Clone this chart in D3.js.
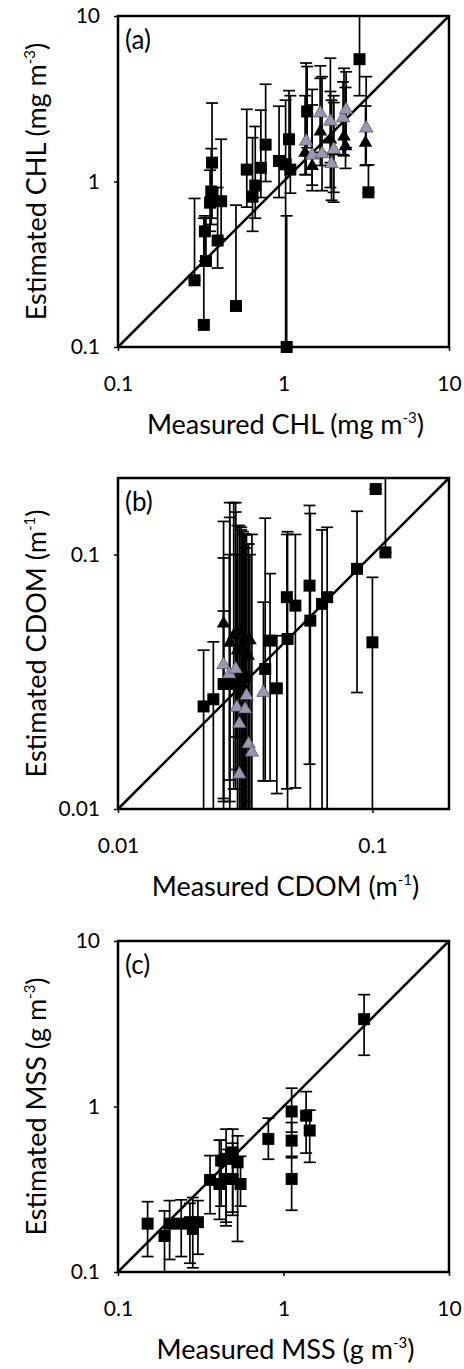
<!DOCTYPE html>
<html>
<head>
<meta charset="utf-8">
<script src="https://cdn.jsdelivr.net/npm/d3@7"></script>
<style>
  body { margin: 0; background: #fff; }
  text { font-family: Lato, "Open Sans", sans-serif; fill: #000; }
</style>
</head>
<body>
<svg id="chart" width="464" height="1369"></svg>
<script>
// each point: [measured, estimated, lower error end, upper error end]
var chlSquares = [
  [0.29, 0.253, 0.253, 0.79], [0.33, 0.136, 0.136, 0.60], [0.34, 0.331, 0.331, 0.60],
  [0.335, 0.50, 0.33, 0.62], [0.37, 1.30, 0.60, 2.98], [0.366, 0.87, 0.55, 1.58],
  [0.36, 0.745, 0.50, 1.17], [0.42, 0.76, 0.45, 1.80], [0.40, 0.44, 0.30, 0.92],
  [0.516, 0.177, 0.177, 0.72], [0.60, 1.18, 0.70, 2.73], [0.675, 0.945, 0.60, 2.15],
  [0.65, 0.81, 0.50, 1.84], [0.73, 1.21, 0.80, 2.70], [0.78, 1.67, 1.0, 3.87],
  [0.94, 1.33, 0.80, 2.85], [1.03, 1.27, 0.01, 3.1], [1.08, 1.80, 1.2, 3.54],
  [1.10, 1.18, 0.85, 3.3], [1.045, 0.10, 0.01, 0.62], [1.39, 2.65, 1.6, 4.95],
  [2.88, 5.48, 3.3, 20], [3.26, 0.86, 0.86, 1.26]
];
var chlBlackTri = [
  [1.35, 1.49, 1.1, 3.3], [1.49, 1.24, 0.88, 2.9], [1.67, 2.0, 1.25, 4.2],
  [1.92, 1.79, 0.92, 3.5], [2.01, 1.52, 0.86, 3.0], [2.32, 1.87, 1.43, 4.83],
  [2.37, 1.63, 1.2, 3.7], [3.13, 1.71, 1.25, 2.86]
];
var chlGreyTri = [
  [1.37, 1.75, 1.1, 5.2], [1.49, 1.44, 0.95, 3.6], [1.67, 2.59, 1.5, 5.0],
  [1.71, 1.47, 0.88, 4.3], [1.92, 2.31, 1.3, 5.56], [1.95, 1.28, 0.77, 3.1],
  [2.01, 1.56, 0.75, 3.3], [2.29, 2.42, 1.45, 4.0], [2.39, 2.71, 1.6, 4.6],
  [3.16, 2.1, 1.26, 4.3]
];

var cdomSquares = [
  [0.0217, 0.0253, 0.005, 0.0421], [0.0237, 0.027, 0.005, 0.0454], [0.026, 0.031, 0.011, 0.135],
  [0.0275, 0.031, 0.0107, 0.16], [0.029, 0.031, 0.0143, 0.147], [0.0305, 0.032, 0.005, 0.128],
  [0.031, 0.029, 0.005, 0.123], [0.0315, 0.033, 0.005, 0.106], [0.0379, 0.0355, 0.0129, 0.139],
  [0.0396, 0.0459, 0.0129, 0.0842], [0.0421, 0.0298, 0.0115, 0.048], [0.0464, 0.0466, 0.005, 0.123],
  [0.0461, 0.068, 0.012, 0.12], [0.0498, 0.063, 0.0121, 0.12], [0.0566, 0.0755, 0.015, 0.156],
  [0.057, 0.055, 0.005, 0.145], [0.0634, 0.064, 0.005, 0.125], [0.0664, 0.068, 0.005, 0.128],
  [0.087, 0.0879, 0.0287, 0.148], [0.100, 0.0452, 0.005, 0.0814], [0.103, 0.181, 0.181, 0.181],
  [0.1125, 0.102, 0.102, 0.5]
];
var cdomBlackTri = [
  [0.026, 0.0536, 0.010, 0.097], [0.0275, 0.045, 0.010, 0.14], [0.0285, 0.048, 0.012, 0.16],
  [0.0295, 0.042, 0.005, 0.13], [0.0305, 0.050, 0.005, 0.125], [0.031, 0.044, 0.005, 0.12],
  [0.0315, 0.047, 0.0107, 0.12], [0.0325, 0.040, 0.005, 0.11], [0.033, 0.046, 0.005, 0.10]
];
var cdomGreyTri = [
  [0.026, 0.0369, 0.0107, 0.06], [0.0274, 0.0339, 0.013, 0.10], [0.029, 0.0355, 0.012, 0.16],
  [0.0293, 0.0251, 0.0192, 0.10], [0.0316, 0.0247, 0.005, 0.12], [0.032, 0.0279, 0.005, 0.12],
  [0.0326, 0.018, 0.005, 0.11], [0.0336, 0.0167, 0.005, 0.12], [0.030, 0.0137, 0.005, 0.10],
  [0.030, 0.0216, 0.0143, 0.13], [0.0373, 0.0287, 0.0129, 0.065]
];

var mssSquares = [
  [0.151, 0.196, 0.124, 0.266], [0.191, 0.165, 0.05, 0.234], [0.205, 0.196, 0.119, 0.27],
  [0.241, 0.196, 0.124, 0.273], [0.283, 0.182, 0.106, 0.282], [0.304, 0.20, 0.128, 0.27],
  [0.272, 0.20, 0.113, 0.26], [0.36, 0.36, 0.225, 0.505], [0.41, 0.34, 0.208, 0.626],
  [0.42, 0.471, 0.25, 0.626], [0.45, 0.483, 0.20, 0.73], [0.493, 0.528, 0.23, 0.73],
  [0.528, 0.46, 0.153, 0.665], [0.493, 0.365, 0.22, 0.60], [0.55, 0.34, 0.25, 0.50],
  [0.45, 0.365, 0.19, 0.55], [0.81, 0.637, 0.48, 0.85], [1.12, 0.933, 0.70, 1.29],
  [1.12, 0.622, 0.49, 0.80], [1.12, 0.365, 0.236, 0.50], [1.37, 0.88, 0.523, 1.23],
  [1.44, 0.716, 0.46, 0.95], [3.07, 3.37, 2.04, 4.74]
];

var chlTicks = [0.1, 1, 10];
var cdomTicks = [0.01, 0.1];
var mssTicks = [0.1, 1, 10];

var panels = [
  { top: 16, domain: [0.1, 10], ticks: chlTicks, label: '(a)',
    xTitle: 'Measured CHL (mg m', yTitle: 'Estimated CHL (mg m', sup: '-3',
    series: [[chlSquares, 'square'], [chlBlackTri, 'black'], [chlGreyTri, 'grey']] },
  { top: 478, domain: [0.01, 0.2], ticks: cdomTicks, label: '(b)',
    xTitle: 'Measured CDOM (m', yTitle: 'Estimated CDOM (m', sup: '-1',
    series: [[cdomSquares, 'square'], [cdomBlackTri, 'black'], [cdomGreyTri, 'grey']] },
  { top: 941, domain: [0.1, 10], ticks: mssTicks, label: '(c)',
    xTitle: 'Measured MSS (g m', yTitle: 'Estimated MSS (g m', sup: '-3',
    series: [[mssSquares, 'square']] }
];

var svg = d3.select('#chart');
var left = 118, size = 331;

panels.forEach(function (p, i) {
  var g = svg.append('g').attr('transform', `translate(${left}, ${p.top})`);

  var x = d3.scaleLog().domain(p.domain).range([0, size]);
  var y = d3.scaleLog().domain(p.domain).range([size, 0]);

  g.append('clipPath').attr('id', 'clip' + i)
    .append('rect').attr('width', size).attr('height', size);

  var xAxis = g.append('g').attr('transform', `translate(0, ${size})`)
    .call(d3.axisBottom(x).tickValues(p.ticks).tickFormat(d => String(d)).tickSize(4).tickPadding(25));
  var yAxis = g.append('g')
    .call(d3.axisLeft(y).tickValues(p.ticks).tickFormat(d => String(d)).tickSize(4).tickPadding(14));
  [xAxis, yAxis].forEach(function (a) {
    a.select('.domain').remove();
    a.selectAll('line').attr('stroke', '#000').attr('stroke-width', 1.5);
    a.selectAll('text').style('font-size', '21px').attr('fill', '#000');
  });

  // 1:1 line
  g.append('line')
    .attr('x1', x(p.domain[0])).attr('y1', y(p.domain[0]))
    .attr('x2', x(p.domain[1])).attr('y2', y(p.domain[1]))
    .attr('stroke', '#000').attr('stroke-width', 2.5);

  p.series.forEach(function (s) {
    var data = s[0], kind = s[1];
    var bars = g.append('g').attr('clip-path', `url(#clip${i})`);
    data.forEach(function (d) {
      bars.append('line')
        .attr('x1', x(d[0])).attr('x2', x(d[0]))
        .attr('y1', y(d[2])).attr('y2', y(d[3]))
        .attr('stroke', '#000').attr('stroke-width', 1.7);
      [d[2], d[3]].forEach(function (v) {
        bars.append('line')
          .attr('x1', x(d[0]) - 6).attr('x2', x(d[0]) + 6)
          .attr('y1', y(v)).attr('y2', y(v))
          .attr('stroke', '#000').attr('stroke-width', 1.7);
      });
    });

    var sym = kind == 'square' ? d3.symbol().type(d3.symbolSquare).size(144)
                               : d3.symbol().type(d3.symbolTriangle).size(80);
    g.append('g').selectAll('path')
      .data(data)
      .enter()
      .append('path')
      .attr('d', sym)
      .attr('transform', d => `translate(${x(d[0])}, ${y(d[1])})`)
      .attr('fill', kind == 'grey' ? '#9898b0' : '#000')
      .attr('stroke', kind == 'grey' ? '#3a3a4a' : 'none')
      .attr('stroke-width', 0.6);
  });

  // frame
  g.append('rect').attr('width', size).attr('height', size)
    .attr('fill', 'none').attr('stroke', '#000').attr('stroke-width', 2.5);

  g.append('text').attr('x', 7).attr('y', 33)
    .style('font-size', '26px').text(p.label);

  var xt = g.append('text')
    .attr('x', size / 2 + 2).attr('y', size + 87)
    .attr('text-anchor', 'middle')
    .style('font-size', '27px');
  xt.append('tspan').text(p.xTitle);
  xt.append('tspan').attr('dy', -11).style('font-size', '15px').text(p.sup);
  xt.append('tspan').attr('dy', 11).text(')');

  var yt = g.append('text')
    .attr('transform', `translate(${46 - left}, ${size / 2}) rotate(-90)`)
    .attr('text-anchor', 'middle')
    .style('font-size', '27px');
  yt.append('tspan').text(p.yTitle);
  yt.append('tspan').attr('dy', -11).style('font-size', '15px').text(p.sup);
  yt.append('tspan').attr('dy', 11).text(')');
});
</script>
</body>
</html>
